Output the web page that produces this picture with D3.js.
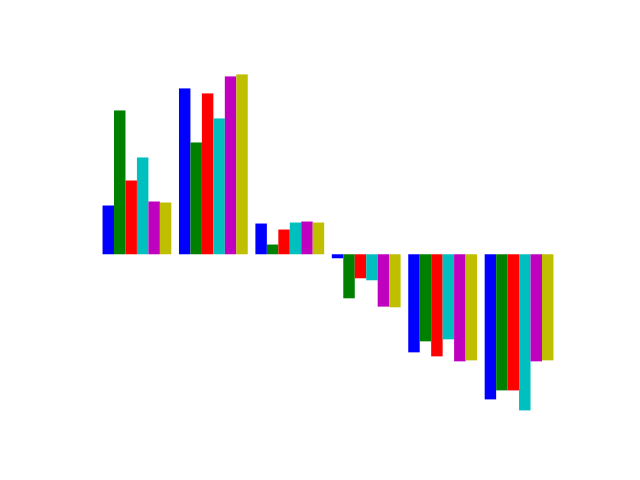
<!DOCTYPE html>
<html><head><meta charset="utf-8">
<script src="https://cdn.jsdelivr.net/npm/d3@7"></script>
<style>body{margin:0;background:#fff}</style>
</head><body>
<svg id="c" width="640" height="480"></svg>
<script>
const groups = ["G1","G2","G3","G4","G5","G6"];
const seriesNames = ["s1","s2","s3","s4","s5","s6"];
const s1 = [48.7, 165.7, 30.7, -4.0, -98.0, -145.0];
const s2 = [143.7, 111.7, 9.7, -44.0, -87.0, -136.0];
const s3 = [73.7, 160.7, 24.7, -24.0, -102.0, -136.0];
const s4 = [96.7, 135.7, 31.7, -26.0, -85.0, -156.0];
const s5 = [52.7, 177.7, 32.7, -52.3, -107.0, -107.0];
const s6 = [51.7, 179.7, 31.7, -53.0, -106.0, -106.0];
const series = [s1, s2, s3, s4, s5, s6];
const colors = ["#0000ff", "#008000", "#ff0000", "#00bfbf", "#bf00bf", "#bfbf00"];
const barW = 0.15;

const svg = d3.select("#c");
const L = 80, R = 576, T = 57.6, B = 427.2;
const xMin = 0, xMax = (groups.length - 1) + series.length * barW;
const xPad = (xMax - xMin) * 0.05;
const x = d3.scaleLinear().domain([xMin - xPad, xMax + xPad]).range([L, R]);
const all = series.flat();
const yMin = Math.min(0, d3.min(all)), yMax = Math.max(0, d3.max(all));
const yPad = (yMax - yMin) * 0.05;
const y = d3.scaleLinear().domain([yMin - yPad, yMax + yPad]).range([B, T]);

const data = [];
series.forEach((vals, j) => vals.forEach((v, i) => data.push({i, j, v})));
svg.selectAll("rect").data(data).enter().append("rect")
  .attr("x", d => x(d.i + d.j * barW))
  .attr("width", d => x(d.i + (d.j + 1) * barW) - x(d.i + d.j * barW))
  .attr("y", d => y(Math.max(0, d.v)))
  .attr("height", d => Math.abs(y(d.v) - y(0)))
  .attr("fill", d => colors[d.j]);
</script>
</body></html>
